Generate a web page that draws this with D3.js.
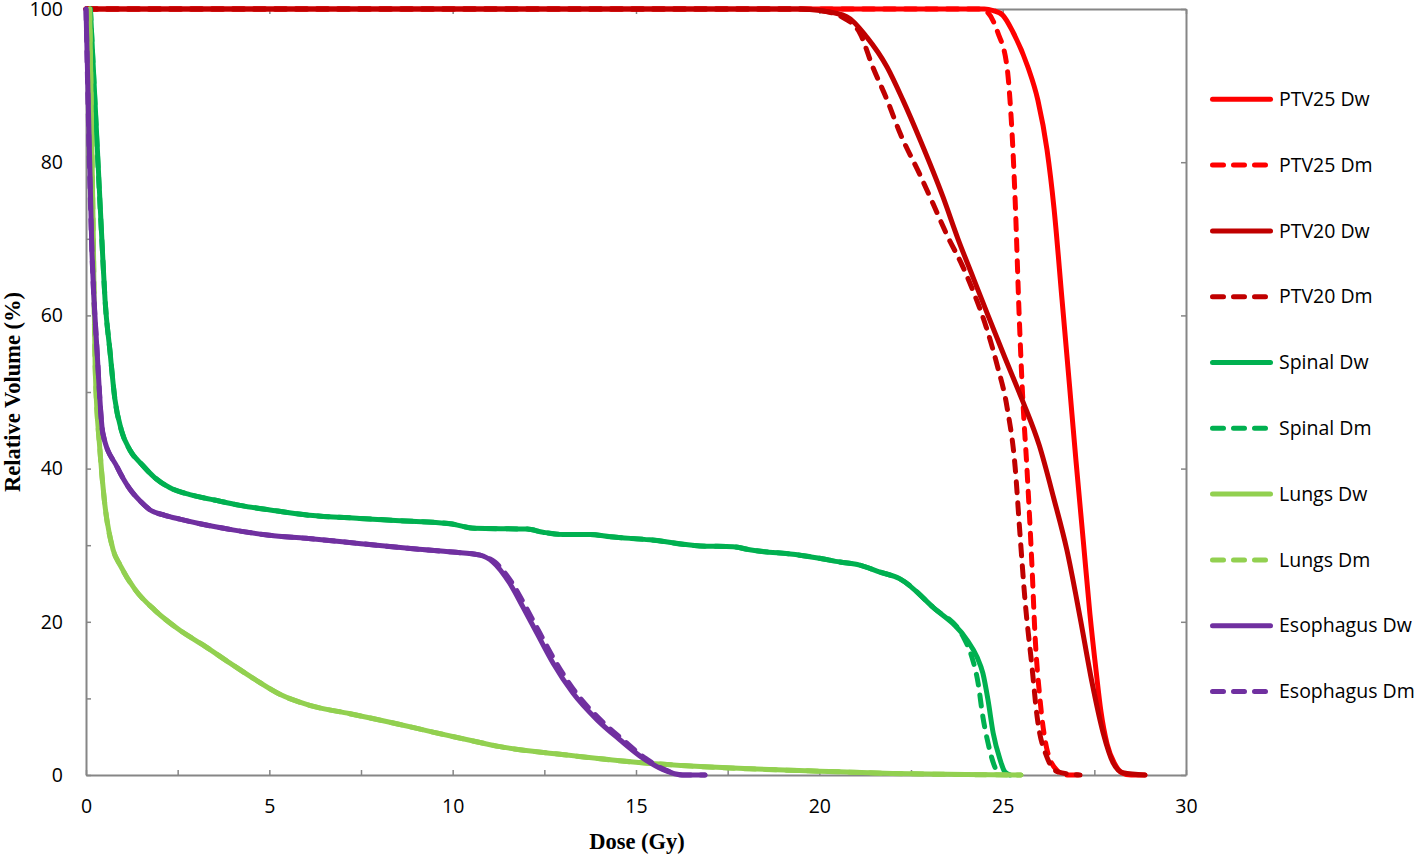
<!DOCTYPE html>
<html>
<head>
<meta charset="utf-8">
<script src="https://cdn.jsdelivr.net/npm/d3@7"></script>
<style>
    body { margin: 0; background: #fff; }
    .tick-label { font-family: "Open Sans", sans-serif; font-size: 19.5px; fill: #000; }
    .axis-title { font-family: "Liberation Serif", "Times New Roman", serif; font-weight: bold; font-size: 22.5px; fill: #000; }
    .legend-label { font-family: "Open Sans", sans-serif; font-size: 19.5px; fill: #000; }
</style>
</head>
<body>
<svg id="chart"></svg>
<script>
// Dose-volume histogram values (dose in Gy, volume in %)
const ptv25DwDose = [0, 24.5, 24.74, 25.0, 25.28, 25.69, 25.96, 26.21, 26.4, 26.62, 26.82, 27.0, 27.2, 27.38, 27.55, 27.68, 27.85, 28.05, 28.25, 28.5, 28.88];
const ptv25DwVol  = [100, 100, 99.8, 99.2, 97, 92.4, 88.1, 81.6, 74, 62, 51, 41, 30.5, 21, 13.5, 8.3, 4, 1.5, 0.3, 0, 0];

const ptv25DmDose = [0, 24.4, 24.6, 24.87, 25.12, 25.2, 25.28, 25.34, 25.45, 25.55, 25.66, 25.8, 25.88, 26.02, 26.21, 26.48, 26.7, 27.11];
const ptv25DmVol  = [100, 100, 99.5, 96.9, 92.4, 88.1, 81.6, 75.1, 60, 49, 40.2, 27.2, 18.5, 9.8, 3.3, 0.6, 0, 0];

const ptv20DwDose = [0, 19.5, 20.02, 20.75, 21.3, 21.85, 22.28, 22.75, 23.37, 23.78, 24.19, 24.6, 25.06, 25.53, 26.0, 26.4, 26.75, 27.11, 27.44, 27.74, 28.01, 28.28, 28.88];
const ptv20DwVol  = [100, 100, 99.8, 99, 96.3, 92.4, 88.1, 82.9, 75.5, 70, 65, 60, 54.5, 49, 43, 36, 29.4, 20.6, 12, 5.5, 1.6, 0.3, 0];

const ptv20DmDose = [0, 19.5, 20.02, 20.6, 21.1, 21.46, 21.85, 22.2, 22.75, 23.1, 23.5, 23.9, 24.25, 24.55, 24.85, 25.12, 25.34, 25.47, 25.61, 25.8, 25.94, 26.21, 26.51, 27.11];
const ptv20DmVol  = [100, 100, 99.8, 99, 96.9, 92.4, 88.1, 83.8, 78.3, 74.6, 70.3, 66.5, 62.5, 58.5, 53.5, 48, 40.2, 31.6, 22.8, 14.1, 7.6, 2.3, 0.4, 0];

const spinalDwDose = [0.12, 0.46, 0.52, 0.65, 0.79, 0.96, 1.2, 1.53, 1.88, 2.29, 2.83, 3.5, 4.2, 5.02, 6.1, 7.47, 8.56, 9.93, 10.6, 12.03, 12.46, 13.0, 13.75, 14.3, 15.38, 16.75, 17.65, 18.1, 19.47, 20.0, 20.56, 21.1, 21.65, 22.2, 23.1, 24.03, 24.3, 24.46, 24.6, 24.74, 24.93, 25.06, 25.2];
const spinalDwVol  = [100, 67.3, 62, 55.5, 49, 45.1, 42.4, 40.5, 38.8, 37.5, 36.6, 35.9, 35.2, 34.6, 33.9, 33.5, 33.2, 32.8, 32.2, 32.1, 31.7, 31.4, 31.4, 31.1, 30.7, 29.9, 29.8, 29.4, 28.7, 28.3, 27.8, 27.4, 26.5, 25.6, 21.9, 17.6, 15.4, 13.3, 9.8, 5.5, 2, 0.4, 0];

const spinalDmDose = [0.12, 0.46, 0.52, 0.65, 0.79, 0.96, 1.2, 1.53, 1.88, 2.29, 2.83, 3.5, 4.2, 5.02, 6.1, 7.47, 8.56, 9.93, 10.6, 12.03, 12.46, 13.0, 13.75, 14.3, 15.38, 16.75, 17.65, 18.1, 19.47, 20.0, 20.56, 21.1, 21.65, 22.2, 23.1, 23.95, 24.16, 24.33, 24.46, 24.6, 24.79, 24.93];
const spinalDmVol  = [100, 67.3, 62, 55.5, 49, 45.1, 42.4, 40.5, 38.8, 37.5, 36.6, 35.9, 35.2, 34.6, 33.9, 33.5, 33.2, 32.8, 32.2, 32.1, 31.7, 31.4, 31.4, 31.1, 30.7, 29.9, 29.8, 29.4, 28.7, 28.3, 27.8, 27.4, 26.5, 25.6, 21.9, 17.8, 15.4, 12, 7.6, 4.2, 1, 0];

const lungsDwDose = [0.1, 0.2, 0.25, 0.38, 0.5, 0.74, 0.93, 1.34, 1.88, 2.56, 3.25, 3.93, 4.6, 5.3, 6.1, 7.2, 8.56, 9.46, 10.5, 11.29, 13.12, 14.92, 16.75, 18.1, 20, 22, 24, 25.5];
const lungsDwVol  = [100, 70, 53.3, 42.4, 35.9, 29.4, 27.4, 24.2, 21.5, 18.9, 16.8, 14.6, 12.5, 10.5, 9.1, 8.0, 6.6, 5.6, 4.5, 3.7, 2.6, 1.7, 1.1, 0.8, 0.5, 0.2, 0.05, 0];

const lungsDmDose = [0.1, 0.2, 0.25, 0.38, 0.5, 0.74, 0.93, 1.34, 1.88, 2.56, 3.25, 3.93, 4.6, 5.3, 6.1, 7.2, 8.56, 9.46, 10.5, 11.29, 13.12, 14.92, 16.75, 18.1, 20, 22, 24, 25.5];
const lungsDmVol  = [100, 70, 53.3, 42.4, 35.9, 29.4, 27.4, 24.2, 21.5, 18.9, 16.8, 14.6, 12.5, 10.5, 9.1, 8.0, 6.6, 5.6, 4.5, 3.7, 2.6, 1.7, 1.1, 0.8, 0.5, 0.2, 0.05, 0];

const esoDwDose = [0, 0.16, 0.3, 0.46, 0.85, 1.2, 1.47, 1.75, 2.15, 2.56, 3.11, 4.0, 5.0, 6.0, 7.5, 9.0, 10.0, 10.75, 11.1, 11.56, 11.92, 12.3, 12.74, 13.28, 13.94, 14.56, 15.19, 15.74, 16.28, 16.88];
const esoDwVol  = [100, 68.5, 55.5, 44.6, 40.2, 37.3, 35.8, 34.6, 33.9, 33.4, 32.8, 32.0, 31.3, 30.9, 30.2, 29.5, 29.1, 28.7, 27.8, 25, 21.9, 18.5, 14.6, 10.7, 7.2, 4.6, 2.2, 0.7, 0, 0];

const esoDmDose = [0, 0.16, 0.3, 0.46, 0.85, 1.2, 1.47, 1.75, 2.15, 2.56, 3.11, 4.0, 5.0, 6.0, 7.5, 9.0, 10.0, 10.75, 11.15, 11.63, 12.0, 12.38, 12.83, 13.37, 14.03, 14.64, 15.25, 15.78, 16.3, 16.88];
const esoDmVol  = [100, 68.5, 55.5, 44.6, 40.2, 37.3, 35.8, 34.6, 33.9, 33.4, 32.8, 32.0, 31.3, 30.9, 30.2, 29.5, 29.1, 28.7, 27.8, 25, 21.9, 18.5, 14.6, 10.7, 7.2, 4.6, 2.2, 0.7, 0, 0];

const seriesNames = ["PTV25 Dw", "PTV25 Dm", "PTV20 Dw", "PTV20 Dm", "Spinal Dw", "Spinal Dm", "Lungs Dw", "Lungs Dm", "Esophagus Dw", "Esophagus Dm"];
const xTickLabels = [0, 5, 10, 15, 20, 25, 30];
const yTickLabels = [0, 20, 40, 60, 80, 100];

class DvhChart {
    constructor(_config, _series) {
        this.config = {
            parentElement: _config.parentElement,
            containerWidth: _config.containerWidth || 1418,
            containerHeight: _config.containerHeight || 854,
            margin: { top: 9, right: 232, bottom: 79, left: 86 },
            legendX: 1212.5,
            legendTop: 99.3,
            legendStep: 65.8,
        };
        this.series = _series;
        this.initVis();
    }

    initVis() {
        let vis = this;

        vis.width = vis.config.containerWidth - vis.config.margin.left - vis.config.margin.right;
        vis.height = vis.config.containerHeight - vis.config.margin.top - vis.config.margin.bottom;

        vis.xScale = d3.scaleLinear().domain([0, 30]).range([0, vis.width]);
        vis.yScale = d3.scaleLinear().domain([0, 100]).range([vis.height, 0]);

        // one colour per structure, Dw solid / Dm dashed
        vis.colorScale = d3.scaleOrdinal()
            .domain(["PTV25", "PTV20", "Spinal", "Lungs", "Esophagus"])
            .range(["#ff0000", "#c00000", "#00b050", "#92d050", "#7030a0"]);

        vis.svg = d3.select(vis.config.parentElement)
            .attr("width", vis.config.containerWidth)
            .attr("height", vis.config.containerHeight);

        vis.chart = vis.svg.append("g")
            .attr("transform", `translate(${vis.config.margin.left},${vis.config.margin.top})`);

        vis.line = d3.line()
            .x((d) => vis.xScale(d.dose))
            .y((d) => vis.yScale(d.vol))
            .curve(d3.curveMonotoneX);

        vis.renderVis();
    }

    renderVis() {
        let vis = this;
        const axisColor = "#868686";

        // frame + inward ticks (bottom every 2.5, left every 10, top every 5, right every 20)
        const frames = [
            { axis: d3.axisTop(vis.xScale).tickValues(d3.range(0, 30.01, 2.5)), t: `translate(0,${vis.height})` },
            { axis: d3.axisRight(vis.yScale).tickValues(d3.range(0, 100.01, 10)), t: "translate(0,0)" },
            { axis: d3.axisBottom(vis.xScale).tickValues(xTickLabels), t: "translate(0,0)" },
            { axis: d3.axisLeft(vis.yScale).tickValues(yTickLabels), t: `translate(${vis.width},0)` },
        ];
        frames.forEach((f) => {
            const g = vis.chart.append("g")
                .attr("transform", f.t)
                .call(f.axis.tickSize(5).tickSizeOuter(0).tickFormat(""));
            g.select(".domain").attr("stroke", axisColor).attr("stroke-width", 2);
            g.selectAll(".tick line").attr("stroke", axisColor).attr("stroke-width", 1.5);
        });

        // tick labels
        const xLab = vis.chart.append("g")
            .attr("transform", `translate(0,${vis.height})`)
            .call(d3.axisBottom(vis.xScale).tickValues(xTickLabels).tickSize(0).tickPadding(24));
        const yLab = vis.chart.append("g")
            .call(d3.axisLeft(vis.yScale).tickValues(yTickLabels).tickSize(0).tickPadding(23));
        [xLab, yLab].forEach((g) => {
            g.select(".domain").remove();
            g.selectAll("text").attr("class", "tick-label").attr("font-family", null).attr("font-size", null).attr("fill", null);
        });

        // axis titles
        vis.svg.append("text")
            .attr("class", "axis-title")
            .attr("text-anchor", "middle")
            .attr("x", 637)
            .attr("y", 849)
            .text("Dose (Gy)");

        vis.svg.append("text")
            .attr("class", "axis-title")
            .attr("text-anchor", "middle")
            .attr("transform", "translate(20,392) rotate(-90)")
            .text("Relative Volume (%)");

        // DVH curves
        vis.chart.selectAll(".dvh")
            .data(vis.series)
            .join("path")
            .attr("class", "dvh")
            .attr("fill", "none")
            .attr("stroke", (d) => vis.colorScale(d.structure))
            .attr("stroke-width", 5)
            .attr("stroke-linecap", "round")
            .attr("stroke-linejoin", "round")
            .attr("stroke-dasharray", (d) => (d.dashed ? "11,10" : null))
            .attr("d", (d) => vis.line(d.points));

        // legend
        const legend = vis.svg.selectAll(".legend-item")
            .data(vis.series)
            .join("g")
            .attr("class", "legend-item")
            .attr("transform", (d, i) => `translate(${vis.config.legendX},${vis.config.legendTop + i * vis.config.legendStep})`);

        legend.append("line")
            .attr("x1", 0)
            .attr("x2", 58)
            .attr("stroke", (d) => vis.colorScale(d.structure))
            .attr("stroke-width", 5)
            .attr("stroke-linecap", "round")
            .attr("stroke-dasharray", (d) => (d.dashed ? "11,10" : null));

        legend.append("text")
            .attr("class", "legend-label")
            .attr("x", 66.5)
            .attr("y", 6.7)
            .text((d) => d.name);
    }
}

const doses = [ptv25DwDose, ptv25DmDose, ptv20DwDose, ptv20DmDose, spinalDwDose, spinalDmDose, lungsDwDose, lungsDmDose, esoDwDose, esoDmDose];
const vols = [ptv25DwVol, ptv25DmVol, ptv20DwVol, ptv20DmVol, spinalDwVol, spinalDmVol, lungsDwVol, lungsDmVol, esoDwVol, esoDmVol];

const series = seriesNames.map((name, i) => ({
    name,
    structure: name.split(" ")[0],
    dashed: name.endsWith("Dm"),
    points: doses[i].map((dose, j) => ({ dose, vol: vols[i][j] })),
}));

new DvhChart({ parentElement: "#chart" }, series);
</script>
</body>
</html>
